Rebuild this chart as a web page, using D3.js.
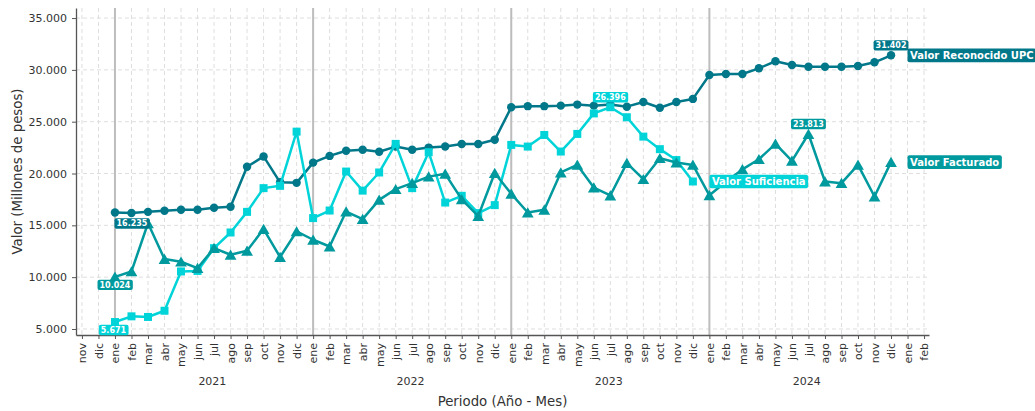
<!DOCTYPE html>
<html>
<head>
<meta charset="utf-8">
<script src="https://cdn.jsdelivr.net/npm/d3@7"></script>
<style>
  body { margin: 0; background: #fff; }
  svg { font-family: "DejaVu Sans", sans-serif; }
</style>
</head>
<body>
<script>
// month names used for the x tick labels (index 0 = nov 2020)
var monthNames = ["ene", "feb", "mar", "abr", "may", "jun", "jul", "ago", "sep", "oct", "nov", "dic"];
var nMonths = 52; // nov 2020 .. feb 2025
var years = ["2021", "2022", "2023", "2024"];
var yearStart = [2, 14, 26, 38]; // index of each "ene"
var yTicks = [5000, 10000, 15000, 20000, 25000, 30000, 35000];

// all series start in ene 2021 (index 2)
var reconocido = [
  16235, 16200, 16300, 16400, 16500, 16500, 16700, 16800, 20650, 21650, 19150, 19100,
  21050, 21700, 22200, 22300, 22100, 22600, 22300, 22500, 22600, 22850, 22850, 23250,
  26400, 26500, 26500, 26550, 26650, 26550, 26650, 26450, 26900, 26350, 26900, 27200,
  29500, 29600, 29600, 30150, 30830, 30470, 30300, 30300, 30300, 30370, 30730, 31402
];
var suficiencia = [
  5671, 6220, 6160, 6760, 10550, 10600, 12800, 14310, 16300, 18590, 18810, 24040,
  15700, 16430, 20190, 18350, 20100, 22860, 18590, 22060, 17200, 17850, 16180, 16950,
  22760, 22600, 23720, 22120, 23820, 25800, 26396, 25430, 23560, 22350, 21300, 19230
];
var facturado = [
  10024, 10550, 15200, 11750, 11490, 10880, 12800, 12160, 12550, 14640, 11940, 14410,
  13610, 12960, 16330, 15600, 17460, 18490, 19070, 19700, 19970, 17500, 15900, 20050,
  18040, 16240, 16500, 20100, 20830, 18650, 17880, 21000, 19450, 21480, 21060, 20830,
  17900, 19200, 20400, 21380, 22860, 21220, 23813, 19230, 19070, 20830, 17780, 21100
];
var seriesNames = ["Valor Reconocido UPC", "Valor Suficiencia", "Valor Facturado"];

var width = 1035, height = 411;
var margin = {left: 76, right: 106, top: 8, bottom: 76};

var svg = d3.select("body").append("svg")
  .attr("width", width)
  .attr("height", height);

var x = d3.scaleLinear().domain([-0.36, 51.3]).range([margin.left, width - margin.right]);
var y = d3.scaleLinear().domain([4420, 35970]).range([height - margin.bottom, margin.top]);

var fmt = function(v) { return d3.format(",")(v).replace(/,/g, "."); };

//Grid
var grid = svg.append("g");
grid.selectAll(".vg")
  .data(d3.range(nMonths))
  .enter().append("line")
  .attr("x1", function(d) { return x(d); })
  .attr("x2", function(d) { return x(d); })
  .attr("y1", y.range()[1])
  .attr("y2", y.range()[0])
  .attr("stroke", "#dedede")
  .attr("stroke-dasharray", "4,3");
grid.selectAll(".hg")
  .data(yTicks)
  .enter().append("line")
  .attr("x1", x.range()[0])
  .attr("x2", x.range()[1])
  .attr("y1", function(d) { return y(d); })
  .attr("y2", function(d) { return y(d); })
  .attr("stroke", "#dedede")
  .attr("stroke-dasharray", "4,3");

//January separators
grid.selectAll(".jan")
  .data(yearStart)
  .enter().append("line")
  .attr("x1", function(d) { return x(d); })
  .attr("x2", function(d) { return x(d); })
  .attr("y1", y.range()[1])
  .attr("y2", y.range()[0])
  .attr("stroke", "#bdbdbd")
  .attr("stroke-width", 2);

//Axes
var xAxis = svg.append("g")
  .attr("transform", "translate(0," + y.range()[0] + ")")
  .call(d3.axisBottom(x)
    .tickValues(d3.range(nMonths))
    .tickFormat(function(i) { return monthNames[(i + 10) % 12]; })
    .tickSize(4)
    .tickSizeOuter(0));
xAxis.selectAll("text")
  .attr("transform", "rotate(-90)")
  .attr("x", -8)
  .attr("y", 0)
  .attr("dy", "0.35em")
  .style("text-anchor", "end");

var yAxis = svg.append("g")
  .attr("transform", "translate(" + x.range()[0] + ",0)")
  .call(d3.axisLeft(y)
    .tickValues(yTicks)
    .tickFormat(fmt)
    .tickSize(4)
    .tickSizeOuter(0)
    .tickPadding(5));

svg.selectAll(".domain").attr("stroke", "#555").attr("stroke-width", 1.3);
svg.selectAll(".tick line").attr("stroke", "#555");
svg.selectAll(".tick text").attr("fill", "#333").style("font-size", "11px").style("font-family", "DejaVu Sans");

//Year labels
svg.selectAll(".year")
  .data(years)
  .enter().append("text")
  .attr("x", function(d, i) { return x(yearStart[i] + 5.9); })
  .attr("y", 385)
  .attr("text-anchor", "middle")
  .attr("fill", "#333")
  .style("font-size", "11px")
  .text(function(d) { return d; });

svg.append("text")
  .attr("x", (x.range()[0] + x.range()[1]) / 2)
  .attr("y", 406)
  .attr("text-anchor", "middle")
  .attr("fill", "#333")
  .style("font-size", "13.3px")
  .text("Periodo (Año - Mes)");

svg.append("text")
  .attr("transform", "translate(22," + ((y.range()[0] + y.range()[1]) / 2) + ") rotate(-90)")
  .attr("text-anchor", "middle")
  .attr("fill", "#333")
  .style("font-size", "13.3px")
  .text("Valor (Millones de pesos)");

//Series
var colors = ["#00788a", "#00d4d8", "#009a9e"];
var allData = [reconocido, suficiencia, facturado];
var symbols = [d3.symbolCircle, d3.symbolSquare, d3.symbolTriangle];
var symbolSizes = [56, 64, 60];

var line = d3.line()
  .x(function(d, i) { return x(i + 2); })
  .y(function(d) { return y(d); });

allData.forEach(function(data, s) {
  var g = svg.append("g");
  g.append("path")
    .datum(data)
    .attr("d", line)
    .attr("fill", "none")
    .attr("stroke", colors[s])
    .attr("stroke-width", 2.5)
    .attr("stroke-linejoin", "round");
  g.selectAll("path.m")
    .data(data)
    .enter().append("path")
    .attr("class", "m")
    .attr("transform", function(d, i) {
      var dy = s == 2 ? 1.5 : 0;
      return "translate(" + x(i + 2) + "," + (y(d) + dy) + ")";
    })
    .attr("d", d3.symbol().type(symbols[s]).size(symbolSizes[s]))
    .attr("fill", colors[s]);
});

//Value labels
function tag(cx, cy, txt, color, size, padX, padY, anchor) {
  var t = svg.append("text")
    .attr("x", cx)
    .attr("y", cy)
    .attr("dy", "0.35em")
    .attr("text-anchor", anchor)
    .attr("fill", "#fff")
    .style("font-weight", "bold")
    .style("font-size", size + "px")
    .text(txt);
  var b = t.node().getBBox();
  svg.insert("rect", function() { return t.node(); })
    .attr("x", b.x - padX)
    .attr("y", cy - size / 2 - padY)
    .attr("width", b.width + 2 * padX)
    .attr("height", size + 2 * padY)
    .attr("rx", 2)
    .attr("fill", color);
}

// first values (below the point)
tag(x(2) + 17, y(reconocido[0]) + 11, fmt(reconocido[0]), colors[0], 8, 2, 1.2, "middle");
tag(x(2), y(facturado[0]) + 8, fmt(facturado[0]), colors[2], 8, 2, 1.2, "middle");
tag(x(2) - 1.5, y(suficiencia[0]) + 8, fmt(suficiencia[0]), colors[1], 8, 2, 1.2, "middle");

// peak values (above the point)
allData.forEach(function(data, s) {
  var iMax = d3.maxIndex(data);
  tag(x(iMax + 2), y(data[iMax]) - 10, fmt(data[iMax]), colors[s], 8, 2, 1.2, "middle");
});

// series names at line ends
allData.forEach(function(data, s) {
  var last = data.length - 1;
  tag(x(last + 2) + 19, y(data[last]), seriesNames[s], colors[s], 10, 2.5, 1.8, "start");
});
</script>
</body>
</html>
